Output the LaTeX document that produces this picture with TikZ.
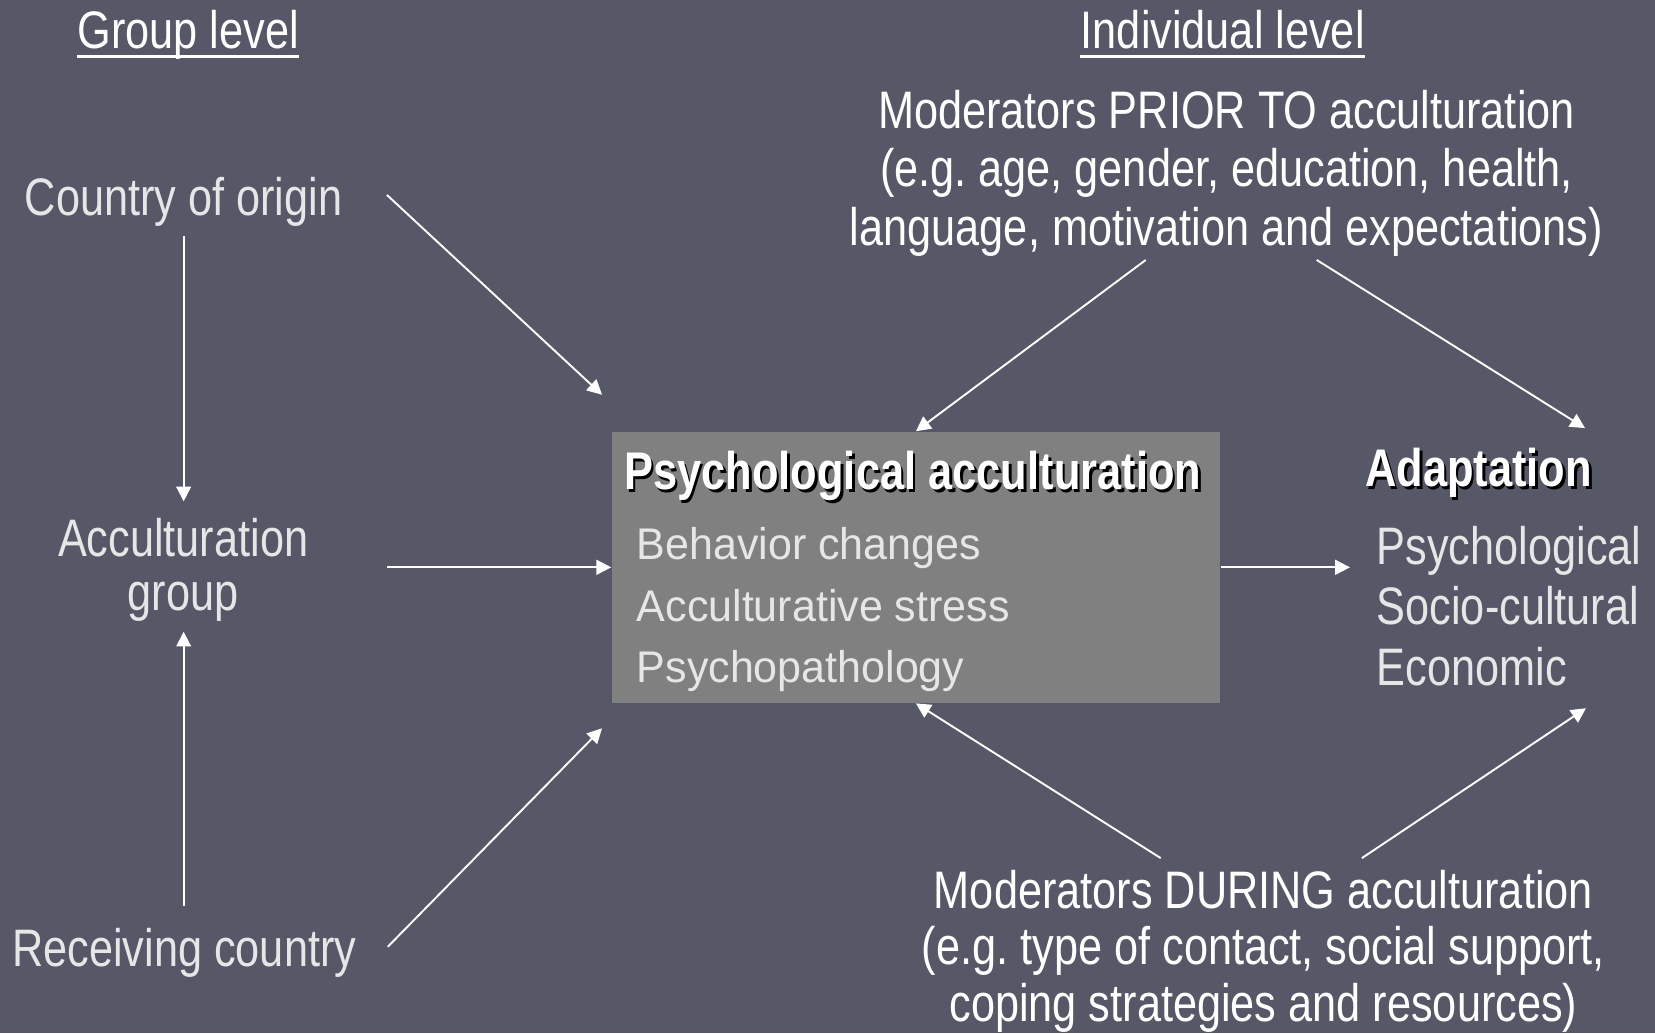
\documentclass[tikz,border=0pt]{standalone}
\usepackage{fontspec}
\setmainfont[FakeStretch=0.82]{Liberation Sans}
\newfontfamily\boxfont[FakeStretch=0.97]{Liberation Sans}
\usetikzlibrary{arrows.meta}
\frenchspacing
\definecolor{bgcol}{HTML}{565868}
\definecolor{boxcol}{HTML}{808080}
\definecolor{lgray}{HTML}{E6E6E6}
\tikzset{
  txt/.style={inner sep=0pt, anchor=base, text=white, font=\fontsize{25}{28}\selectfont},
  soft/.style={txt, text=lgray},
  boxitem/.style={inner sep=0pt, anchor=base west, text=lgray, font=\boxfont\fontsize{21}{25}\selectfont},
  adaitem/.style={inner sep=0pt, anchor=base west, text=lgray, font=\fontsize{25}{28}\selectfont},
  boldtitle/.style={inner sep=0pt, anchor=base west, text=white, font=\bfseries\fontsize{25.1}{28}\selectfont},
  boldshadow/.style={boldtitle, text=black},
  conn/.style={draw=white, line width=0.9pt, -{Triangle[length=7pt,width=7pt]}},
  uline/.style={draw=white, line width=1.3pt},
  boxnode/.style={fill=boxcol, inner sep=0pt, minimum width=288.25pt, minimum height=128.5pt}
}
\begin{document}
\begin{tikzpicture}[x=0.5pt,y=-0.5pt]
\fill[bgcol] (0,0) rectangle (1568,979);
\useasboundingbox (0,0) rectangle (1568,979);

% headings
\node[txt] (grp) at (178.4,45.6) {Group level};
\node[txt] (ind) at (1158.5,45.8) {Individual level};
\draw[uline] ([yshift=-4pt]grp.base west) -- ([yshift=-4pt]grp.base east);
\draw[uline] ([yshift=-4pt]ind.base west) -- ([yshift=-4pt]ind.base east);

% group level
\node[soft] (origin) at (174,203.7) {Country of origin};
\node[soft] (acc1) at (173.5,527.7) {Acculturation};
\node[soft] (acc2) at (173.5,578) {group};
\node[soft] (recv) at (174.6,915.8) {Receiving country};

% central box
\node[boxnode] (box) at (867.75,537.5) {};
\node[boldshadow] (titleshadow) at (593.5,466.5) {Psychological acculturation};
\node[boldtitle] (title) at (591,464) {Psychological acculturation};
\node[boxitem] (beh) at (603,530.5) {Behavior changes};
\node[boxitem] (str) at (603,589) {Acculturative stress};
\node[boxitem] (pat) at (603,647) {Psychopathology};

% adaptation
\node[boldshadow] (adashadow) at (1295.5,463.5) {Adaptation};
\node[boldtitle] (ada) at (1293,461) {Adaptation};
\node[adaitem] (psy) at (1304,535) {Psychological};
\node[adaitem] (soc) at (1304,592) {Socio-cultural};
\node[adaitem] (eco) at (1304,649) {Economic};

% moderators
\node[txt] (prior1) at (1162,121.5) {Moderators PRIOR TO acculturation};
\node[txt] (prior2) at (1162,177) {(e.g. age, gender, education, health,};
\node[txt] (prior3) at (1162,232.5) {language, motivation and expectations)};
\node[txt] (dur1) at (1197,860.5) {Moderators DURING acculturation};
\node[txt] (dur2) at (1197,914) {(e.g. type of contact, social support,};
\node[txt] (dur3) at (1197,968) {coping strategies and resources)};

% connector end points
\coordinate (o1) at (174,224);
\coordinate (g1) at (174,475);
\coordinate (r1) at (174,858);
\coordinate (g2) at (174,598.5);
\coordinate (o2) at (366.6,184.7);
\coordinate (bo) at (570.4,374);
\coordinate (a2) at (367,537.5);
\coordinate (r2) at (367.4,897);
\coordinate (br) at (570.4,690);
\coordinate (p1) at (1085.5,246.3);
\coordinate (p2) at (1247.5,246.3);
\coordinate (ap) at (1501.7,405.6);
\coordinate (ad) at (1279,537.5);
\coordinate (d1) at (1099.7,813);
\coordinate (d2) at (1290.3,813);
\coordinate (adb) at (1502.6,671);

% connectors
\draw[conn] (o1) -- (g1);
\draw[conn] (r1) -- (g2);
\draw[conn] (o2) -- (bo);
\draw[conn] (a2) -- (box.west);
\draw[conn] (r2) -- (br);
\draw[conn] (p1) -- (box.north);
\draw[conn] (p2) -- (ap);
\draw[conn] (box.east) -- (ad);
\draw[conn] (d1) -- (box.south);
\draw[conn] (d2) -- (adb);
\end{tikzpicture}
\end{document}
